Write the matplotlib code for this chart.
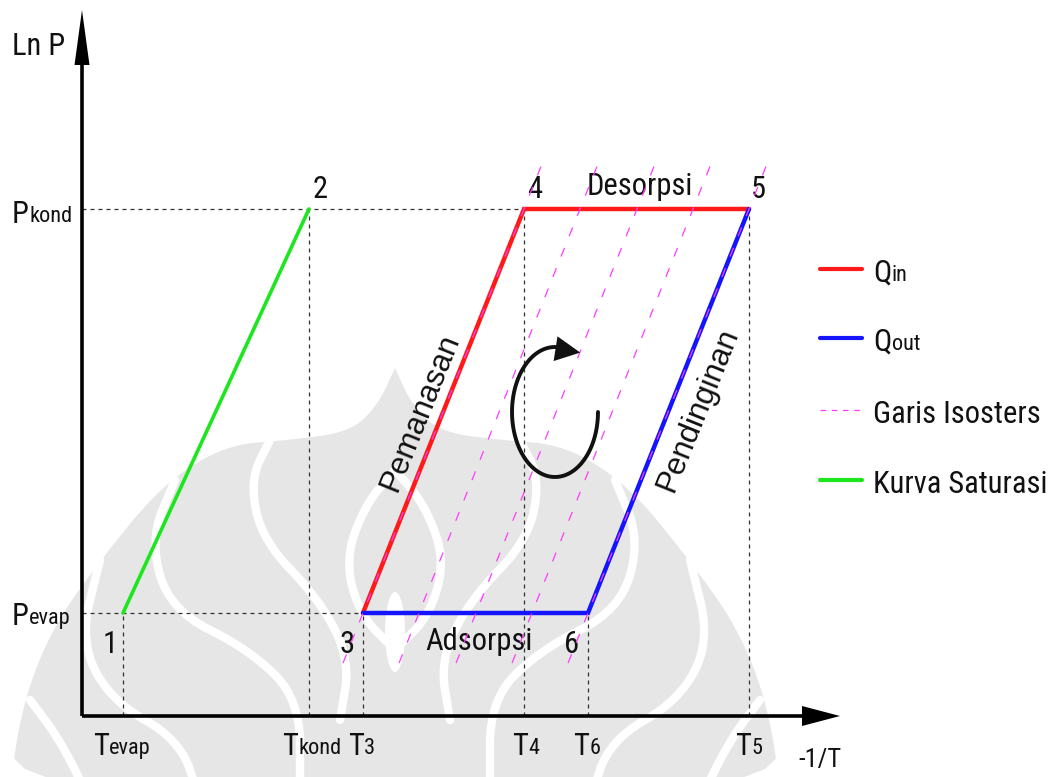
import matplotlib
matplotlib.use("Agg")
import matplotlib.pyplot as plt
import numpy as np
from matplotlib.patches import Polygon, Ellipse

# ---- diagram values -------------------------------------------------------
# positions on the -1/T axis
T_evap, T_kond, T_3, T_4, T_6, T_5 = 4.1, 22.7, 28.1, 44.2, 50.6, 66.7
# positions on the Ln P axis
P_evap, P_kond = 10.3, 50.7

# numbered cycle states
state_names = ["1", "2", "3", "4", "5", "6"]
state_T = [T_evap, T_kond, T_3, T_4, T_5, T_6]
state_P = [P_evap, P_kond, P_evap, P_kond, P_kond, P_evap]

# saturation curve (1 -> 2), heat input (3 -> 4 -> 5), heat output (5 -> 6 -> 3)
sat_T, sat_P = [T_evap, T_kond], [P_evap, P_kond]
qin_T, qin_P = [T_3, T_4, T_5], [P_evap, P_kond, P_kond]
qout_T, qout_P = [T_5, T_6, T_3], [P_kond, P_evap, P_evap]

# isosteres: where each crosses the evaporator pressure, and their extent in Ln P
isoster_T0 = [28.1, 33.7, 39.4, 45.0, 50.6]
isoster_P_range = (5.3, 55.4)

legend_labels = [("Q", "in"), ("Q", "out"), ("Garis Isosters", ""), ("Kurva Saturasi", "")]

# ---- styling ---------------------------------------------------------------
GREEN, RED, BLUE, PINK = "#1ee61e", "#ff1a1a", "#1414ff", "#ff3cff"
NARROW = ["Roboto Condensed", "Open Sans Condensed", "Liberation Sans"]
REGULAR = ["Liberation Sans", "DejaVu Sans"]
BIG, SMALL = 22, 16
plt.rcParams["font.family"] = NARROW
TXT = "#111111"

W, H = 1053, 777
fig = plt.figure(figsize=(W / 100, H / 100), dpi=100)
ax = fig.add_axes([0, 0, 1, 1])
ax.set_xlim(-8.2, 97.1)
ax.set_ylim(-6.1, 71.6)
ax.axis("off")


# ---- faint background emblem ----------------------------------------------
def chaikin(pts, n=3, closed=False):
    pts = np.asarray(pts, float)
    for _ in range(n):
        a = pts if closed else pts[:-1]
        nxt = np.roll(pts, -1, axis=0) if closed else pts[1:]
        q = 0.75 * a + 0.25 * nxt
        r = 0.25 * a + 0.75 * nxt
        new = np.empty((2 * len(a), 2))
        new[0::2], new[1::2] = q, r
        pts = new if closed else np.vstack([pts[:1], new, pts[-1:]])
    return pts


def to_fig(pts):
    pts = np.asarray(pts, float)
    return np.column_stack([pts[:, 0] / W, 1 - pts[:, 1] / H])


def mirrored(half, axis_x=395):
    half = np.asarray(half, float)
    other = half[::-1].copy()
    other[:, 0] = 2 * axis_x - other[:, 0]
    return np.vstack([half, other])


EMBLEM = "#e6e6e6"
outline_right = [(395, 368), (412, 405), (440, 432), (500, 440), (565, 445),
                 (628, 485), (688, 558), (738, 628), (768, 705), (782, 800)]
outline = mirrored(outline_right[::-1])
ax.add_patch(Polygon(to_fig(chaikin(outline, 3, closed=True)), closed=True,
                     transform=fig.transFigure, facecolor=EMBLEM,
                     edgecolor="none", zorder=0.1))

white_bands = [
    [(395, 470), (365, 505), (345, 560), (360, 615), (395, 650)],
    [(270, 440), (250, 480), (262, 540), (320, 600), (350, 660), (340, 720)],
    [(175, 480), (150, 540), (170, 610), (250, 650), (300, 700), (300, 790)],
    [(100, 560), (80, 640), (110, 700), (180, 740), (200, 800)],
    [(30, 700), (60, 740), (90, 800)],
]
for band in white_bands:
    for side in (1, -1):
        b = np.asarray(band, float)
        if side < 0:
            b[:, 0] = 790 - b[:, 0]
        sm = to_fig(chaikin(b, 3))
        ax.plot(sm[:, 0], sm[:, 1], transform=fig.transFigure, color="white",
                lw=6, solid_capstyle="round", zorder=0.2)
ax.add_patch(Ellipse((395 / W, 1 - 632 / H), 20 / W, 80 / H,
                     transform=fig.transFigure, facecolor="white",
                     edgecolor="none", zorder=0.3))

# ---- diagram ----------------------------------------------------------------
guide = dict(color="#333333", lw=0.9, linestyle=(0, (3.2, 3.2)), zorder=1)

# dotted guides from the axes to the states
ax.plot([0, T_4], [P_kond, P_kond], **guide)
ax.plot([0, T_3], [P_evap, P_evap], **guide)
for t, p in zip(state_T, state_P):
    ax.plot([t, t], [0, p], **guide)

# cycle lines
ax.plot(sat_T, sat_P, color=GREEN, lw=2.6, solid_capstyle="round", zorder=3)
ax.plot(qin_T, qin_P, color=RED, lw=3.2, solid_capstyle="round",
        solid_joinstyle="miter", zorder=3)
ax.plot(qout_T, qout_P, color=BLUE, lw=3.2, solid_capstyle="round",
        solid_joinstyle="miter", zorder=3)

# isosteres run parallel to the heating line 3 -> 4
slope = (P_kond - P_evap) / (T_4 - T_3)
p_lo, p_hi = isoster_P_range
for t0 in isoster_T0:
    xs = [t0 + (p_lo - P_evap) / slope, t0 + (p_hi - P_evap) / slope]
    ax.plot(xs, [p_lo, p_hi], color=PINK, lw=0.9,
            linestyle=(0, (7.5, 10)), zorder=4)

# axes with arrowheads
ax.plot([0, 0], [0, 66], color="black", lw=2.6, solid_capstyle="butt", zorder=5)
ax.plot([0, 73], [0, 0], color="black", lw=2.6, solid_capstyle="butt", zorder=5)
ax.fill([-0.75, 0.75, 0], [65.1, 65.1, 70.6], color="black", lw=0, zorder=5)
ax.fill([72.0, 72.0, 75.8], [-1.0, 1.0, 0], color="black", lw=0, zorder=5)


def split_label(x, y, big, small, color=TXT):
    """Large leading letter followed by a smaller tail on the same baseline."""
    t = ax.text(x, y, big, fontsize=BIG, va="baseline", ha="left", color=color)
    if small:
        ax.annotate(small, xy=(1, 0), xycoords=t,
                    xytext=(0.3, 0.21 * (BIG - SMALL)), textcoords="offset points",
                    fontsize=SMALL, va="bottom", ha="left", color=color)
    return t


# axis titles and tick-like labels
ax.text(-7.0, 66.1, "Ln P", fontsize=BIG, va="baseline", ha="left", color=TXT)
split_label(-7.0, 49.3, "P", "kond")
split_label(-7.0, 9.1, "P", "evap")
ax.text(71.6, -5.1, "-1/T", fontsize=19, va="baseline", ha="left", color=TXT)

t_label_left = [1.1, 20.0, 26.6, 43.0, 49.1, 65.3]
t_label_tail = ["evap", "kond", "3", "4", "6", "5"]
for xl, tail in zip(t_label_left, t_label_tail):
    split_label(xl, -3.9, "T", tail)

# state numbers
num_offset = {"1": (-1.3, -4.0), "2": (1.1, 1.1), "3": (-1.6, -4.0),
              "4": (1.1, 1.1), "5": (0.9, 1.1), "6": (-1.6, -4.0)}
for name, t, p in zip(state_names, state_T, state_P):
    dx, dy = num_offset[name]
    ax.text(t + dx, p + dy, name, fontsize=BIG, ha="center", va="baseline", color=TXT)

ax.text(50.5, 52.1, "Desorpsi", fontsize=BIG, va="baseline", ha="left", color=TXT)
ax.text(34.3, 6.6, "Adsorpsi", fontsize=BIG, va="baseline", ha="left", color=TXT)

ax.text(33.8, 30.3, "Pemanasan", fontsize=22.5, rotation=68, rotation_mode="anchor",
        ha="center", va="center", family=REGULAR, color=TXT)
ax.text(61.6, 30.6, "Pendinginan", fontsize=22.5, rotation=68, rotation_mode="anchor",
        ha="center", va="center", family=REGULAR, color=TXT)

# circular arrow showing the direction of the cycle
cx, cy, rx, ry = 47.3, 30.4, 4.3, 6.5
th = np.radians(np.linspace(0, -290, 200))
ax.plot(cx + rx * np.cos(th), cy + ry * np.sin(th), color="#111111", lw=2.8,
        solid_capstyle="round", zorder=5)
th_end = np.radians(-290)
ax.annotate("", xy=(cx + 2.8, cy + 5.9),
            xytext=(cx + rx * np.cos(th_end), cy + ry * np.sin(th_end)),
            arrowprops=dict(arrowstyle="-|>,head_length=0.9,head_width=0.45",
                            color="#111111", lw=0, mutation_scale=20),
            zorder=5)

# legend
leg_colors = [RED, BLUE, PINK, GREEN]
leg_y = [44.7, 37.8, 30.6, 23.6]
for (big, small), c, y in zip(legend_labels, leg_colors, leg_y):
    if c == PINK:
        ax.plot([73.8, 78.0], [y, y], color=c, lw=0.9, linestyle=(0, (4.5, 4.5)))
    else:
        ax.plot([73.8, 78.0], [y, y], color=c, lw=3.0, solid_capstyle="round")
    split_label(79.1, y - 1.3, big, small)

fig.savefig("out.png", dpi=100)
